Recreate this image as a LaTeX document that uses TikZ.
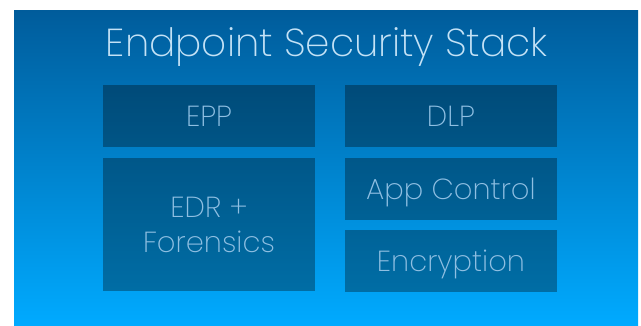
\documentclass[tikz,border=0pt]{standalone}
\usepackage{fontspec}
\setmainfont{Poppins}[UprightFont=* ExtraLight]
\usetikzlibrary{positioning}
\definecolor{stackTop}{HTML}{005C9B}
\definecolor{stackBottom}{HTML}{00AAFF}
\definecolor{stackTitle}{HTML}{C4E2F6}
\definecolor{stackLabel}{HTML}{8FBFE2}

\begin{document}
\begin{tikzpicture}[x=1pt,y=-1pt,
    layer/.style={fill=black,fill opacity=0.32,text opacity=1,text=stackLabel,
                  minimum width=212pt,align=center,inner sep=0pt,text depth=0pt,
                  font=\fontsize{29}{35}\selectfont}]
  \useasboundingbox (0,0) rectangle (641,325);
  % backdrop
  \fill[top color=stackTop,bottom color=stackBottom] (14,10) rectangle (638,325);
  \node[text=stackTitle,font=\fontsize{39}{44}\selectfont] (title) at (327,47)
    {Endpoint Security Stack};
  % left column
  \node[layer,minimum height=62pt]  (epp) at (209,116) {EPP};
  \node[layer,minimum height=133pt] (edr) at (209,224.5) {EDR +\\Forensics};
  % right column
  \node[layer,minimum height=62pt] (dlp) at (451,116) {DLP};
  \node[layer,minimum height=62pt] (app) at (451,189) {App Control};
  \node[layer,minimum height=62pt] (enc) at (451,261) {Encryption};
\end{tikzpicture}
\end{document}
